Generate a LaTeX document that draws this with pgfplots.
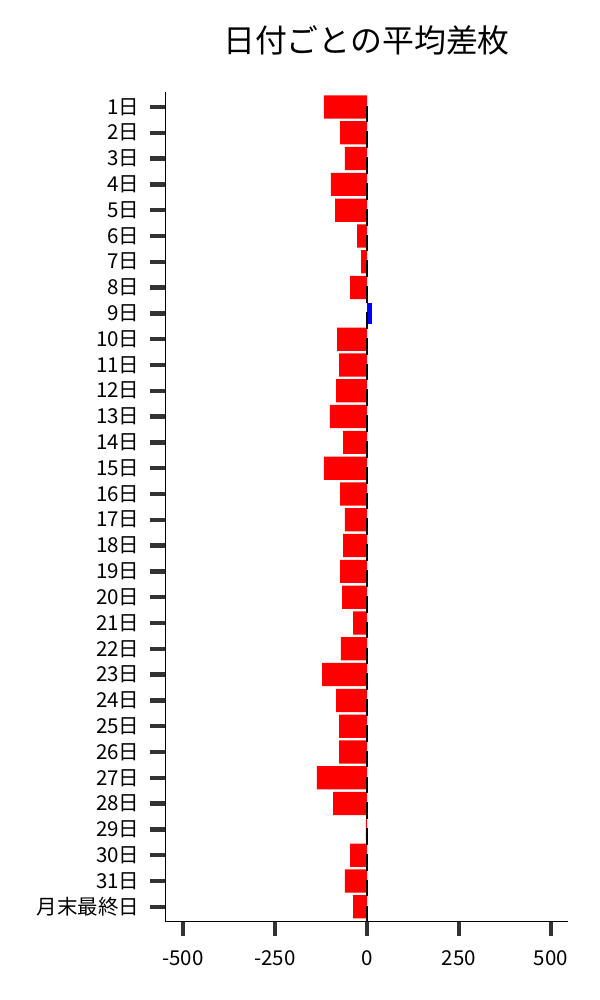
\documentclass[border=0pt]{standalone}
\usepackage{pgfplots}
\pgfplotsset{compat=1.18}
\usepackage{fontspec}
\setmainfont{Noto Sans CJK JP}
\definecolor{tickgray}{HTML}{333333}
\begin{document}
\begin{tikzpicture}
\path[use as bounding box] (-165bp,-79bp) rectangle (435bp,921bp);
\begin{axis}[
	at={(0,0)}, anchor=south west,
	scale only axis, width=403bp, height=829bp,
	xmin=-549, xmax=546, ymin=-0.55, ymax=31.58,
	axis lines=left, axis line style={-, black, line width=0.8bp},
	xtick={-500,-250,0,250,500}, xticklabels={-500,-250,0,250,500},
	ytick={0,...,31},
	yticklabels={月末最終日,31日,30日,29日,28日,27日,26日,25日,24日,23日,22日,21日,20日,19日,18日,17日,16日,15日,14日,13日,12日,11日,10日,9日,8日,7日,6日,5日,4日,3日,2日,1日},
	tick align=outside, major tick length=15bp,
	tick style={tickgray, line width=4.5bp},
	ticklabel style={font=\fontsize{20.6}{24}\selectfont},
	yticklabel style={xshift=-7bp},
	xticklabel style={yshift=-11bp},
	title={日付ごとの平均差枚},
	title style={at={(0.5,1)}, anchor=center, yshift=46bp, font=\fontsize{32}{38}\selectfont},
	clip=false,
]
% 負の平均差枚
\addplot[xbar, bar width=0.9, bar shift=0, fill=red, draw=none] coordinates {
	(-117,31) (-73,30) (-60,29) (-98,28) (-87,27) (-27,26) (-16,25) (-46,24)
	(-81,22) (-76,21) (-84,20) (-101,19) (-65,18) (-117,17) (-73,16) (-60,15)
	(-65,14) (-73,13) (-68,12) (-38,11) (-71,10) (-122,9) (-84,8) (-76,7)
	(-76,6) (-136,5) (-92,4) (-3,3) (-46,2) (-60,1) (-38,0)};
% 正の平均差枚
\addplot[xbar, bar width=0.82, bar shift=0, fill=blue, draw=none] coordinates {(13,23)};
% 0付近の黒い線
\addplot[black, line width=2bp, unbounded coords=jump] coordinates {
	(0,31.05) (0,30.4) (nan,nan) (0,30.05) (0,29.4) (nan,nan)
	(0,29.05) (0,28.4) (nan,nan) (0,28.05) (0,27.4) (nan,nan)
	(0,27.05) (0,26.4) (nan,nan) (0,26.05) (0,25.4) (nan,nan)
	(0,25.05) (0,24.4) (nan,nan) (0,24.05) (0,23.4) (nan,nan)
	(0,23.05) (0,22.4) (nan,nan) (0,22.05) (0,21.4) (nan,nan)
	(0,21.05) (0,20.4) (nan,nan) (0,20.05) (0,19.4) (nan,nan)
	(0,19.05) (0,18.4) (nan,nan) (0,18.05) (0,17.4) (nan,nan)
	(0,17.05) (0,16.4) (nan,nan) (0,16.05) (0,15.4) (nan,nan)
	(0,15.05) (0,14.4) (nan,nan) (0,14.05) (0,13.4) (nan,nan)
	(0,13.05) (0,12.4) (nan,nan) (0,12.05) (0,11.4) (nan,nan)
	(0,11.05) (0,10.4) (nan,nan) (0,10.05) (0,9.4) (nan,nan)
	(0,9.05) (0,8.4) (nan,nan) (0,8.05) (0,7.4) (nan,nan)
	(0,7.05) (0,6.4) (nan,nan) (0,6.05) (0,5.4) (nan,nan)
	(0,5.05) (0,4.4) (nan,nan) (0,4.05) (0,3.4) (nan,nan)
	(0,3.05) (0,2.4) (nan,nan) (0,2.05) (0,1.4) (nan,nan)
	(0,1.05) (0,0.4) (nan,nan) (0,0.05) (0,-0.55)};
\end{axis}
\end{tikzpicture}
\end{document}
